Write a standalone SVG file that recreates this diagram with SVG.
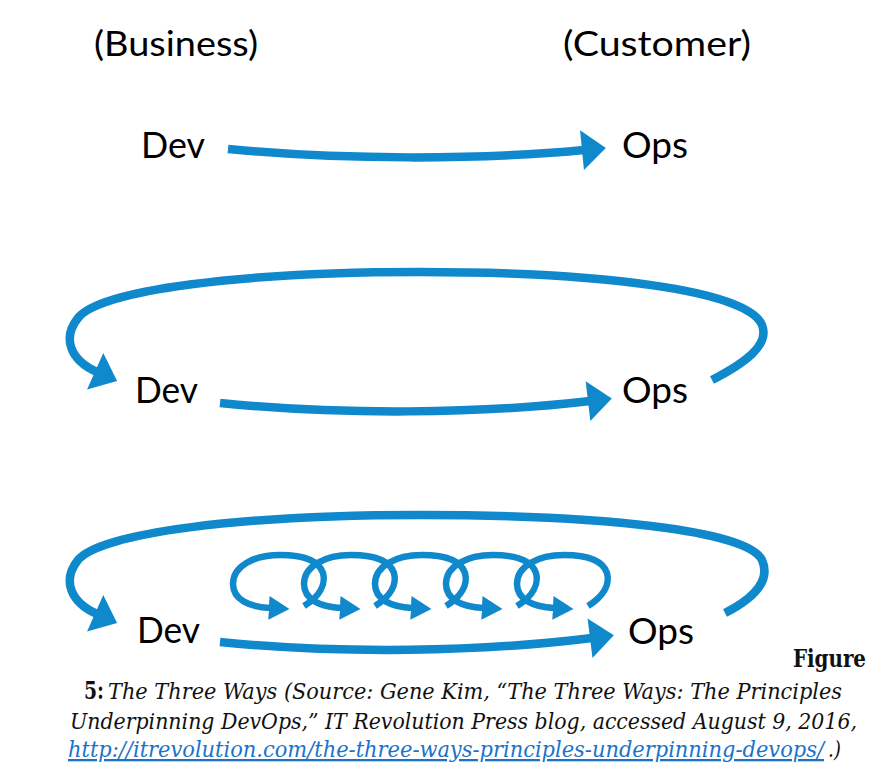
<svg xmlns="http://www.w3.org/2000/svg" width="896" height="768" viewBox="0 0 896 768">
<defs>
<style>
.lbl{font-family:Lato,"Open Sans",sans-serif;font-size:37px;fill:#000}
.hdr{font-family:Lato,"Open Sans",sans-serif;font-size:35px;fill:#000}
.big{fill:none;stroke:#1089cc;stroke-width:8.5;marker-end:url(#ah)}
.sm{fill:none;stroke:#1089cc;stroke-width:6.5;marker-end:url(#as)}
.cap{font-family:"DejaVu Serif","Liberation Serif",serif;font-stretch:condensed;font-size:23px;font-style:italic;fill:#111}
.capb{font-family:"DejaVu Serif","Liberation Serif",serif;font-stretch:condensed;font-size:24px;font-weight:bold;fill:#111}
</style>
<marker id="ah" markerUnits="userSpaceOnUse" markerWidth="30" markerHeight="44" viewBox="0 -22 26 44" refX="2" refY="0" orient="auto">
<path d="M0,-20 L24,0 L0,20 z" fill="#1089cc"/>
</marker>
<marker id="as" markerUnits="userSpaceOnUse" markerWidth="22" markerHeight="26" viewBox="0 -12 20 24" refX="1" refY="0" orient="auto">
<path d="M0,-11 L19,0 L0,11 z" fill="#1089cc"/>
</marker>
</defs>
<rect width="896" height="768" fill="#fff"/>

<g id="business"><text class="hdr" x="94" y="56" textLength="164" lengthAdjust="spacingAndGlyphs">(Business)</text></g>
<g id="customer"><text class="hdr" x="563" y="56" textLength="188" lengthAdjust="spacingAndGlyphs">(Customer)</text></g>

<g id="dev1"><text class="lbl" x="141" y="158" textLength="64" lengthAdjust="spacingAndGlyphs">Dev</text></g>
<g id="ops1"><text class="lbl" x="622" y="158" textLength="66" lengthAdjust="spacingAndGlyphs">Ops</text></g>
<g id="dev2"><text class="lbl" x="135" y="403" textLength="63" lengthAdjust="spacingAndGlyphs">Dev</text></g>
<g id="ops2"><text class="lbl" x="622" y="403" textLength="66" lengthAdjust="spacingAndGlyphs">Ops</text></g>
<g id="dev3"><text class="lbl" x="137" y="643" textLength="63" lengthAdjust="spacingAndGlyphs">Dev</text></g>
<g id="ops3"><text class="lbl" x="628" y="644" textLength="66" lengthAdjust="spacingAndGlyphs">Ops</text></g>

<g id="connectors">
<path class="big" d="M228,149 C340,160 480,160 584,150"/>
<path class="big" d="M220,403 C340,415 480,414 590,401"/>
<path class="big" d="M712,380 C745,363 770,345 762,325 C748,290 600,272 420,272 C240,272 100,290 78,318 C62,338 70,360 97,372"/>
<path class="big" d="M220,642 C340,654 480,652 592,638"/>
<path class="big" d="M725,613 C758,596 770,578 762,560 C748,530 600,515 420,515 C240,515 100,533 78,560 C62,580 70,602 97,614"/>
<g id="loops">
<path class="sm" transform="translate(230,0)" d="M74,606 C90,596 96,584 93,573 C88,558 68,555 50,555 C24,555 3,566 3,584 C3,600 20,607 40,608"/>
<path class="sm" transform="translate(301,0)" d="M74,606 C90,596 96,584 93,573 C88,558 68,555 50,555 C24,555 3,566 3,584 C3,600 20,607 40,608"/>
<path class="sm" transform="translate(372,0)" d="M74,606 C90,596 96,584 93,573 C88,558 68,555 50,555 C24,555 3,566 3,584 C3,600 20,607 40,608"/>
<path class="sm" transform="translate(443,0)" d="M74,606 C90,596 96,584 93,573 C88,558 68,555 50,555 C24,555 3,566 3,584 C3,600 20,607 40,608"/>
<path class="sm" transform="translate(514,0)" d="M74,606 C90,596 96,584 93,573 C88,558 68,555 50,555 C24,555 3,566 3,584 C3,600 20,607 40,608"/>
</g>
</g>

<g id="caption">
<text class="capb" x="793" y="667" textLength="73" lengthAdjust="spacingAndGlyphs">Figure</text>
<text class="capb" x="84" y="699" textLength="20" lengthAdjust="spacingAndGlyphs">5:</text>
<text class="cap" x="108" y="699" textLength="734" lengthAdjust="spacingAndGlyphs">The Three Ways (Source: Gene Kim, “The Three Ways: The Principles</text>
<text class="cap" x="70" y="729" textLength="787" lengthAdjust="spacingAndGlyphs">Underpinning DevOps,” IT Revolution Press blog, accessed August 9, 2016,</text>
<text class="cap" x="68" y="757" textLength="756" lengthAdjust="spacingAndGlyphs" style="fill:#1a73c9;text-decoration:underline">http://itrevolution.com/the-three-ways-principles-underpinning-devops/</text>
<text class="cap" x="828" y="757" textLength="13" lengthAdjust="spacingAndGlyphs">.)</text>
</g>
</svg>
